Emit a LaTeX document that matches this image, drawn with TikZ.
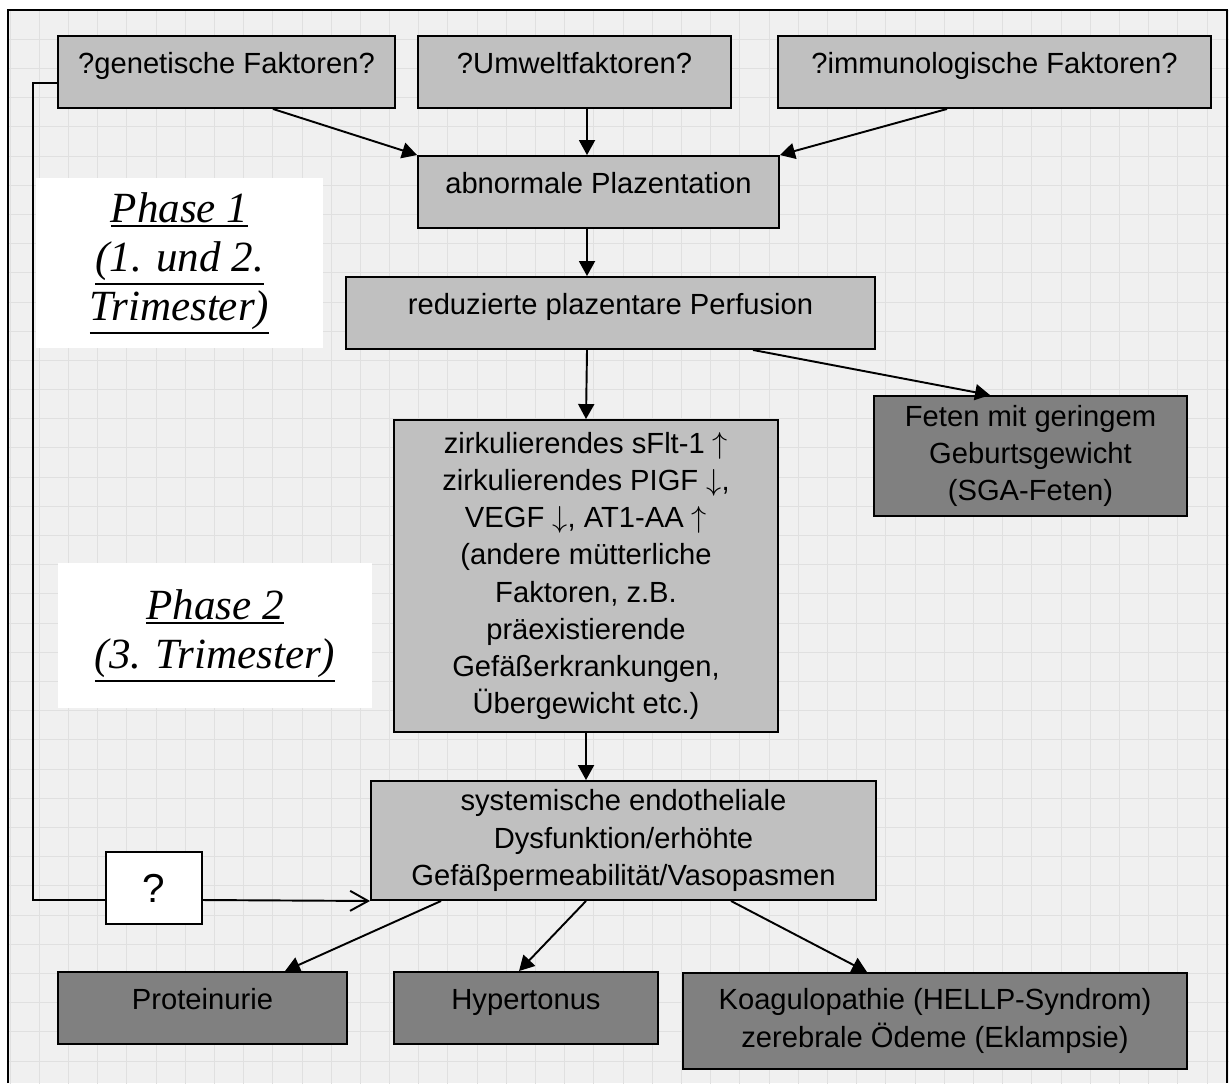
\documentclass[tikz,border=0pt]{standalone}
\usepackage{fontspec}
\setmainfont{Liberation Sans}
\newfontfamily\phasefont{Liberation Serif}
\usetikzlibrary{arrows.meta, calc}
\definecolor{BoxA}{HTML}{C0C0C0}
\definecolor{BoxB}{HTML}{808080}
\definecolor{PaperA}{HTML}{F0F0F0}
\definecolor{GridA}{HTML}{E0E0E0}
\tikzset{
  box/.style={draw=black, line width=1.1pt, align=center, inner sep=2pt,
              font=\fontsize{16.6pt}{21.2pt}\selectfont},
  light/.style={fill=BoxA},
  dark/.style={fill=BoxB},
  oneline/.style={text height=0.3cm, text depth=0.24cm},
  phase/.style={fill=white, align=center,
                font=\phasefont\itshape\fontsize{24.5pt}{27.9pt}\selectfont},
  arr/.style={-{Triangle[length=0.3cm, width=0.32cm]}, line width=1.1pt},
  oarr/.style={-{Straight Barb[length=0.36cm, width=0.4cm]}, line width=1.1pt},
  outline/.style={line width=1.2pt},
}
\newcommand{\up}{$\uparrow$}
\newcommand{\down}{$\downarrow$}
\newcommand{\phul}[1]{\leavevmode\vtop{\hbox{#1}\kern1.2pt\hrule height 1.1pt}}

\begin{document}
\begin{tikzpicture}[x=0.02cm, y=-0.02cm]
  \useasboundingbox (0,0) rectangle (1229,1083);
  % paper and grid
  \fill[PaperA] (8,10) rectangle (1229,1083);
  \begin{scope}
    \clip (8,10) rectangle (1229,1083);
    \draw[GridA, line width=0.5pt, xshift=0.2cm, yshift=-0.2cm]
      (-20,-20) grid[step=0.584cm] (1260,1120);
  \end{scope}
  \draw[outline] (8,1083) |- (1227,10) -- (1227,1083);

  \node[phase, minimum width=5.74cm, minimum height=3.4cm] (ph1) at (179.5,263)
    {\phul{Phase 1}\\\phul{(1. und 2.}\\\phul{Trimester)}};
  \node[phase, minimum width=6.28cm, minimum height=2.9cm] (ph2) at (215,635.5)
    {\phul{Phase 2}\\\phul{(3. Trimester)}};

  \node[box, light, oneline, minimum width=6.74cm, minimum height=1.44cm] (gen) at (226.5,72) {?genetische Faktoren?};
  \node[box, light, oneline, minimum width=6.26cm, minimum height=1.44cm] (umw) at (574.5,72) {?Umweltfaktoren?};
  \node[box, light, oneline, minimum width=8.66cm, minimum height=1.44cm] (imm) at (994.5,72) {?immunologische Faktoren?};
  \node[box, light, oneline, minimum width=7.22cm, minimum height=1.44cm] (plaz) at (598.5,192) {abnormale Plazentation};
  \node[box, light, oneline, minimum width=10.58cm, minimum height=1.44cm] (perf) at (610.5,313) {reduzierte plazentare Perfusion};
  \node[box, light, minimum width=7.68cm, minimum height=6.24cm] (big) at (586,576)
    {zirkulierendes sFlt-1 \up\\zirkulierendes PIGF \down,\\VEGF \down, AT1-AA \up\\(andere mütterliche\\Faktoren, z.B.\\präexistierende\\Gefäßerkrankungen,\\Übergewicht etc.)};
  \node[box, dark, minimum width=6.26cm, minimum height=2.4cm] (sga) at (1030.5,456)
    {Feten mit geringem\\Geburtsgewicht\\(SGA-Feten)};
  \node[box, light, minimum width=10.1cm, minimum height=2.38cm] (sys) at (623.5,840.5)
    {systemische endotheliale\\Dysfunktion/erhöhte\\Gefäßpermeabilität/Vasopasmen};
  \node[box, fill=white, font=\fontsize{23pt}{26pt}\selectfont, minimum width=1.92cm, minimum height=1.44cm] (q) at (154,888) {?};
  \node[box, dark, oneline, minimum width=5.78cm, minimum height=1.44cm] (prot) at (202.5,1008) {Proteinurie};
  \node[box, dark, oneline, minimum width=5.28cm, minimum height=1.44cm] (hyp) at (526,1008) {Hypertonus};
  \node[box, dark, minimum width=10.08cm, minimum height=1.92cm] (koag) at (935,1021)
    {Koagulopathie (HELLP-Syndrom)\\zerebrale Ödeme (Eklampsie)};

  \draw[arr] ([xshift=0.93cm]gen.south) -- (plaz.north west);
  \draw[arr] ([xshift=0.25cm]umw.south) -- ([xshift=-0.23cm]plaz.north);
  \draw[arr] ([xshift=-0.95cm]imm.south) -- (plaz.north east);
  \draw[arr] ([xshift=-0.23cm]plaz.south) -- ([xshift=-0.47cm]perf.north);
  \draw[arr] ([xshift=-0.47cm]perf.south) -- (big.north);
  \draw[arr] ([xshift=2.85cm]perf.south) -- ([xshift=-0.81cm]sga.north);
  \draw[arr] (big.south) -- ([xshift=-0.75cm]sys.north);
  \draw[arr] ([xshift=-3.65cm]sys.south) -- ([xshift=1.65cm]prot.north);
  \draw[arr] ([xshift=-0.75cm]sys.south) -- ([xshift=-0.14cm]hyp.north);
  \draw[arr] ([xshift=2.15cm]sys.south) -- ([xshift=-1.36cm]koag.north);

  % feedback path
  \coordinate (fb) at (33,900);
  \draw[line width=1.1pt] ([yshift=-0.22cm]gen.west) -| (fb) -- (fb -| q.west);
  \draw[oarr] (q.east |- fb) -- (sys.south west);
\end{tikzpicture}
\end{document}
